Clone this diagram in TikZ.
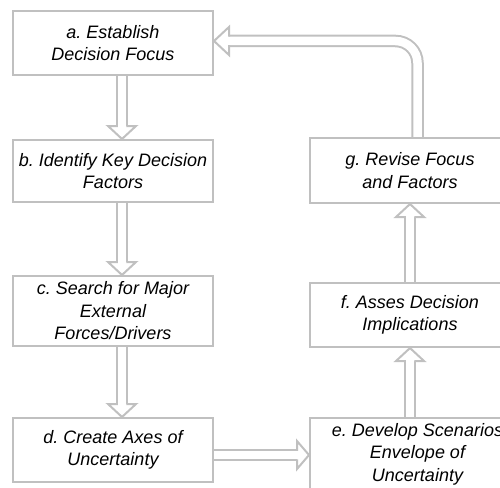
\documentclass[tikz,border=0pt]{standalone}
\usepackage{fontspec}
\setmainfont{Liberation Sans}
\frenchspacing
\usetikzlibrary{calc,backgrounds}
\definecolor{framegray}{RGB}{192,192,192}
\tikzset{
  stepbox/.style={draw=framegray, line width=2pt, minimum width=200pt,
    minimum height=64pt, align=center, inner sep=0pt,
    font=\fontsize{18}{22.5}\selectfont\itshape},
  shaft/.style={draw=framegray, line width=2pt, double=white, double distance=8.5pt},
  hhead/.style={draw=framegray, fill=white, line width=2pt, line join=miter},
}
% hollow arrow head: #1 = base point on the shaft, #2 = tip
\newcommand\hollowtip[2]{%
  \filldraw[hhead] ($(#1)!4.25pt!90:(#2)$) -- ($(#1)!14pt!90:(#2)$) -- (#2)
    -- ($(#1)!14pt!-90:(#2)$) -- ($(#1)!4.25pt!-90:(#2)$);
}
\begin{document}
\begin{tikzpicture}[x=1pt,y=1pt]
\useasboundingbox (0,0) rectangle (500,-487);
\clip (0,0) rectangle (500,-487);

% process steps
\node[stepbox] (a) at (113,-43) {a. Establish\\Decision Focus};
\node[stepbox, minimum height=62pt] (b) at (113,-171) {b. Identify Key Decision\\Factors};
\node[stepbox, minimum height=70pt] (c) at (113,-311) {c. Search for Major\\External\\Forces/Drivers};
\node[stepbox] (d) at (113,-450) {d. Create Axes of\\Uncertainty};
\node[stepbox, minimum width=215pt, minimum height=72pt] (e) at (417.5,-454) {e. Develop Scenarios\\Envelope of\\Uncertainty};
\node[stepbox] (f) at (410,-315) {f. Asses Decision\\Implications};
\node[stepbox, minimum height=65pt] (g) at (410,-170.5) {g. Revise Focus\\and Factors};

\begin{scope}[on background layer]
  % a -> b
  \coordinate (ab0) at ($(a.south)+(9,0)$);
  \coordinate (ab2) at ($(b.north)+(9,0)$);
  \coordinate (ab1) at ($(ab2)+(0,13)$);
  \draw[shaft] (ab0) -- (ab1);
  \hollowtip{ab1}{ab2}
  % b -> c
  \coordinate (bc0) at ($(b.south)+(9,0)$);
  \coordinate (bc2) at ($(c.north)+(9,0)$);
  \coordinate (bc1) at ($(bc2)+(0,13)$);
  \draw[shaft] (bc0) -- (bc1);
  \hollowtip{bc1}{bc2}
  % c -> d
  \coordinate (cd0) at ($(c.south)+(9,0)$);
  \coordinate (cd2) at ($(d.north)+(9,0)$);
  \coordinate (cd1) at ($(cd2)+(0,13)$);
  \draw[shaft] (cd0) -- (cd1);
  \hollowtip{cd1}{cd2}
  % d -> e
  \coordinate (de0) at ($(d.east)+(0,-5)$);
  \coordinate (de2) at (e.west |- de0);
  \coordinate (de1) at ($(de2)+(-12,0)$);
  \draw[shaft] (de0) -- (de1);
  \hollowtip{de1}{de2}
  % e -> f
  \coordinate (ef0) at (f.south |- e.north);
  \coordinate (ef2) at (f.south);
  \coordinate (ef1) at ($(ef2)+(0,-13)$);
  \draw[shaft] (ef0) -- (ef1);
  \hollowtip{ef1}{ef2}
  % f -> g
  \coordinate (fg0) at (f.north);
  \coordinate (fg2) at (g.south);
  \coordinate (fg1) at ($(fg2)+(0,-13)$);
  \draw[shaft] (fg0) -- (fg1);
  \hollowtip{fg1}{fg2}
  % g -> a (feedback loop)
  \coordinate (ga0) at ($(g.north)+(7.5,0)$);
  \coordinate (ga2) at ($(a.east)+(0,2)$);
  \coordinate (ga1) at ($(ga2)+(15,0)$);
  \draw[shaft, rounded corners=22pt] (ga0) |- (ga1);
  \hollowtip{ga1}{ga2}
\end{scope}
\end{tikzpicture}
\end{document}
